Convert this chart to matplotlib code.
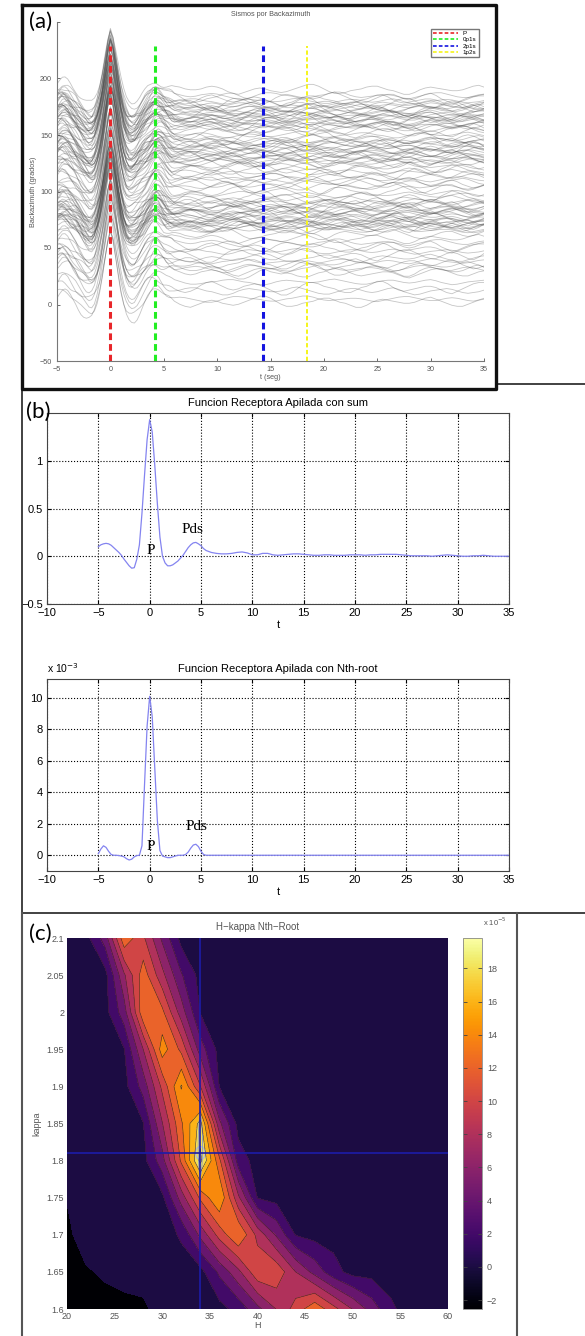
import matplotlib
matplotlib.use('Agg')
import matplotlib.pyplot as plt
import numpy as np
from matplotlib.patches import Ellipse
from matplotlib.lines import Line2D
from matplotlib.colors import Normalize
from matplotlib.cm import ScalarMappable

W, H = 585, 1336
plt.rcParams['font.family'] = ['Liberation Sans', 'DejaVu Sans']
plt.rcParams['axes.unicode_minus'] = True

# ---------------- data ----------------
# time samples of the receiver functions (s)
t_rf = np.concatenate([np.arange(-5, 6, 0.25), np.arange(6, 35.01, 0.5)])

# stacked RF (sum)
rf_sum = [0.10, 0.12, 0.13, 0.135, 0.13, 0.115, 0.09, 0.065, 0.04, 0.01,
          -0.03, -0.065, -0.10, -0.125, -0.12, -0.03, 0.12, 0.45, 0.85, 1.22,
          1.43, 1.30, 0.95, 0.55, 0.20, 0.00, -0.07, -0.10, -0.10, -0.09,
          -0.07, -0.05, -0.02, 0.01, 0.05, 0.09, 0.12, 0.14, 0.145, 0.13,
          0.11, 0.08, 0.06, 0.05,
          0.04, 0.03, 0.025, 0.025, 0.03, 0.04, 0.045, 0.035, 0.015, 0.015,
          0.03, 0.03, 0.015, 0.01, 0.015, 0.02, 0.025, 0.025, 0.02, 0.015,
          0.01, 0.01, 0.015, 0.015, 0.01, 0.01, 0.01, 0.015, 0.015, 0.015,
          0.01, 0.015, 0.015, 0.02, 0.02, 0.02, 0.02, 0.015, 0.01, 0.005,
          0.005, 0.005, 0.005, 0.0, 0.005, 0.01, 0.015, 0.01, 0.005, 0.0,
          0.0, 0.005, 0.005, 0.01, 0.005, 0.0, 0.0, 0.0, 0.0]

# stacked RF (Nth-root), x 1e-3
rf_nth = [0.1, 0.4, 0.6, 0.5, 0.25, 0.05, 0.0, 0.0, -0.02, -0.05,
          -0.1, -0.22, -0.3, -0.25, -0.1, -0.02, 0.0, 0.6, 4.5, 8.2,
          10.1, 8.8, 5.5, 2.2, 0.3, -0.05, -0.1, -0.15, -0.15, -0.1,
          -0.05, 0.0, 0.0, 0.0, 0.05, 0.2, 0.45, 0.65, 0.7, 0.55,
          0.25, 0.05, 0.0, 0.0] + [0.0] * 59

# single-event pulse shape (normalised) and coda wiggle (grados) for panel (a)
pulse_a = [0.10, 0.13, 0.15, 0.14, 0.12, 0.08, 0.04, 0.0, -0.05, -0.10,
           -0.15, -0.19, -0.22, -0.22, -0.17, -0.06, 0.10, 0.32, 0.58, 0.84,
           1.00, 0.86, 0.62, 0.36, 0.12, -0.05, -0.16, -0.21, -0.22, -0.20,
           -0.16, -0.11, -0.06, -0.01, 0.04, 0.09, 0.14, 0.17, 0.17, 0.14,
           0.10, 0.06, 0.03, 0.01] + [0.0] * 59
coda = [0, 2, 4, 5, 4, 2, -1, -3, -4, -3,
        -1, 1, 3, 3, 2, 0, -2, -4, -5, -4,
        -2, 1, 3, 5, 6, 5, 3, 1, -1, -2,
        -2, -1, 1, 2, 2, 0, -2, -4, -6, -6,
        -4, -1, 2, 4, 4, 3, 1, 0, 0, 1,
        3, 4, 3, 1, -2, -4, -5, -3, -1, 1,
        2, 1, -1, -2, -3, -2, 0, 2, 4, 6,
        6, 4, 1, -2, -4, -4, -3, -1, 0, 1,
        3, 4, 4, 2, 0, -1, -3, -5, -5, -3,
        0, 2, 3, 2, 1, 0, -1, -1, 0, 2,
        4, 5, 3, 1, -1, -3, -4, -4, -2, 0,
        2, 3, 3, 1, -1, -2, -1, 1, 3, 4,
        2, -1, -3, -5, -4, -2, 0, 1, 2, 3,
        2, 0, -2, -3, -2, -1, 1, 2, 3, 2]

# backazimuth of each event (grados), grouped
baz_top = [190, 185, 183, 181, 180, 178, 177, 176, 175, 174, 173, 172, 171, 170, 169,
           168, 167, 166, 165, 165, 164, 163, 162, 161, 160, 159, 158, 157, 156, 155]
baz_upper = [152, 150, 148, 146, 145, 144, 143, 142, 141, 140, 139, 138, 137, 136, 135,
             134, 133, 132, 131, 130, 129, 128, 127, 126, 125]
baz_mid = [123, 121, 119, 117, 115, 113, 111, 109, 107, 105, 103, 100, 97]
baz_lower = [95, 93, 91, 90, 89, 88, 87, 86, 85, 84, 83, 82, 81, 80, 79, 78, 77, 76,
             75, 74, 73, 72, 72, 71, 70, 70, 69, 68, 67, 66]
baz_sparse = [62, 58, 55, 52, 50, 47, 44, 41, 38, 36, 34, 32, 30, 28, 20, 15, 12, 5, 2]
gains = [62, 55, 68, 58, 65, 50, 60]
coda_scale = [0.8, -0.6, 1.0, -0.9, 0.5, -1.1, 0.7, -0.5, 0.9]
coda_offset = [0, 13, 27, 5, 34, 19, 9, 31, 23, 2, 16]
peak_max = 243

phases = ['P', '0p1s', '2p1s', '1p2s']
phase_t = [0.0, 4.2, 14.3, 18.45]
phase_col = ['#e8262a', '#22ee22', '#1414e0', '#f5f51a']

# H-kappa stack (x 1e-5), rows kappa 1.60 .. 2.10, columns H 20 .. 60
H_vals = np.arange(20, 60.1, 2)
k_vals = np.arange(1.6, 2.1001, 0.05)
Z = np.array([
    [-2.5, -2.4, -2.0, -2.1, -1.6, 0.3, 0.3, 0.3, 0.3, 1.7, 4.4, 7.1, 9.8, 12.5, 9.7, 6.9, 4.1, 1.3, 0.3, 0.3, 0.3],
    [-2.3, -1.3, -0.6, 0.3, 0.3, 0.3, 0.3, 0.3, 3.4, 6.5, 10.5, 10.5, 7.0, 4.3, 1.7, 0.3, 0.3, 0.3, 0.3, 0.3, 0.3],
    [-1.6, 0.3, 0.3, 0.3, 0.3, 0.3, 1.2, 5.5, 9.8, 13.0, 8.4, 4.7, 0.9, 0.3, 0.3, 0.3, 0.3, 0.3, 0.3, 0.3, 0.3],
    [-0.9, 0.3, 0.3, 0.3, 0.3, 0.5, 5.9, 11.4, 15.0, 7.4, 0.9, 0.3, 0.3, 0.3, 0.3, 0.3, 0.3, 0.3, 0.3, 0.3, 0.3],
    [0.3, 0.3, 0.3, 0.3, 0.3, 4.2, 11.4, 19.6, 11.5, 1.9, 0.3, 0.3, 0.3, 0.3, 0.3, 0.3, 0.3, 0.3, 0.3, 0.3, 0.3],
    [0.3, 0.3, 0.3, 0.3, 0.9, 6.9, 12.7, 17.8, 5.5, 0.3, 0.3, 0.3, 0.3, 0.3, 0.3, 0.3, 0.3, 0.3, 0.3, 0.3, 0.3],
    [0.3, 0.3, 0.3, 0.3, 3.8, 9.5, 15.2, 9.1, 0.9, 0.3, 0.3, 0.3, 0.3, 0.3, 0.3, 0.3, 0.3, 0.3, 0.3, 0.3, 0.3],
    [0.3, 0.3, 0.3, 0.9, 7.0, 14.0, 10.5, 4.0, 0.3, 0.3, 0.3, 0.3, 0.3, 0.3, 0.3, 0.3, 0.3, 0.3, 0.3, 0.3, 0.3],
    [0.3, 0.3, 0.3, 4.1, 12.5, 11.5, 6.0, 0.9, 0.3, 0.3, 0.3, 0.3, 0.3, 0.3, 0.3, 0.3, 0.3, 0.3, 0.3, 0.3, 0.3],
    [0.3, 0.3, 0.3, 6.7, 12.1, 7.6, 3.2, 0.3, 0.3, 0.3, 0.3, 0.3, 0.3, 0.3, 0.3, 0.3, 0.3, 0.3, 0.3, 0.3, 0.3],
    [0.3, 0.3, 3.9, 12.5, 9.4, 4.6, 0.3, 0.3, 0.3, 0.3, 0.3, 0.3, 0.3, 0.3, 0.3, 0.3, 0.3, 0.3, 0.3, 0.3, 0.3],
])
best_H, best_k = 34.0, 1.81
zmin, zmax = -2.54, 19.83


def fbox(x0, y0, x1, y1):
    # pixel box -> figure fraction rect
    return [x0 / W, 1 - y1 / H, (x1 - x0) / W, (y1 - y0) / H]


def fline(xs, ys, lw, col):
    fig.add_artist(Line2D([x / W for x in xs], [1 - y / H for y in ys], lw=lw,
                          color=col, transform=fig.transFigure, zorder=6))


fig = plt.figure(figsize=(W / 100, H / 100), dpi=100)

# ---------------- (a) traces ----------------
axa = fig.add_axes(fbox(57, 22, 484, 361))
n = len(t_rf)
pulse = np.array(pulse_a)
coda = np.array(coda, dtype=float)
all_baz = baz_top + baz_upper + baz_mid + baz_lower + baz_sparse
for i, b in enumerate(all_baz):
    g = min(gains[i % len(gains)], peak_max - b)
    o = coda_offset[i % len(coda_offset)]
    cs = coda_scale[i % len(coda_scale)]
    y = b + g * pulse + cs * coda[o:o + n]
    axa.plot(t_rf, y, color='#4a4a4a', lw=0.6, alpha=0.32)
for name, tp, c in zip(phases, phase_t, phase_col):
    lw = 1.4 if name == '1p2s' else 2.2
    axa.plot([tp, tp], [-50, 229], ls='--', dashes=(2.2, 1.3), color=c, lw=lw, label=name)
axa.set_xlim(-5, 35)
axa.set_ylim(-50, 250)
axa.set_xticks(np.arange(-5, 36, 5))
axa.set_yticks(np.arange(-50, 251, 50))
axa.set_yticklabels(['\u221250', '0', '50', '100', '150', '200', ''])
for s in ['top', 'right']:
    axa.spines[s].set_visible(False)
for s in ['left', 'bottom']:
    axa.spines[s].set_color('#777777')
    axa.spines[s].set_linewidth(0.8)
axa.tick_params(labelsize=5.2, colors='#555555', length=2.5, width=0.6, direction='in')
axa.set_title('Sismos por Backazimuth', fontsize=5.2, color='#555555', pad=4)
axa.set_xlabel('t (seg)', fontsize=5.2, color='#555555', labelpad=1)
axa.set_ylabel('Backazimuth (grados)', fontsize=5.2, color='#555555', labelpad=2)
leg = axa.legend(loc='upper right', bbox_to_anchor=(0.995, 0.99), fontsize=4.5,
                 handlelength=4.0, labelspacing=0.15, borderpad=0.35, fancybox=False,
                 edgecolor='#777777', framealpha=1)
for line in leg.get_lines():
    line.set_linewidth(1.2)

# ---------------- (b) stacked RFs ----------------
ax1 = fig.add_axes(fbox(47, 413, 509, 604))
ax2 = fig.add_axes(fbox(47, 679, 509, 871))
ax1.plot(t_rf, rf_sum, color='#8484f0', lw=0.9)
ax2.plot(t_rf, rf_nth, color='#8484f0', lw=0.9)
ax1.set_ylim(-0.5, 1.5)
ax1.set_yticks([-0.5, 0, 0.5, 1])
ax1.set_yticklabels(['\u22120.5', '0', '0.5', '1'])
ax2.set_ylim(-1, 11.2)
ax2.set_yticks(np.arange(0, 11, 2))
for ax, ttl in [(ax1, 'Funcion Receptora Apilada con sum'),
                (ax2, 'Funcion Receptora Apilada con Nth-root')]:
    ax.set_xlim(-10, 35)
    ax.set_xticks(np.arange(-10, 36, 5))
    ax.grid(True, ls=':', color='k', lw=0.8)
    ax.tick_params(labelsize=8, direction='in', top=True, right=True, length=3, pad=3)
    ax.set_xlabel('t', fontsize=8, labelpad=1)
    ax.set_title(ttl, fontsize=8, pad=5)
    for s in ax.spines.values():
        s.set_linewidth(0.8)
        s.set_color('#444444')
ax1.text(0.13, 0.06, 'P', family='Liberation Serif', fontsize=11, ha='center', va='center')
ax1.text(4.2, 0.28, 'Pds', family='Liberation Serif', fontsize=11, ha='center', va='center')
ax2.text(0.13, 0.57, 'P', family='Liberation Serif', fontsize=11, ha='center', va='center')
ax2.text(4.6, 1.8, 'Pds', family='Liberation Serif', fontsize=11, ha='center', va='center')
fig.text(47 / W, 1 - 668 / H, 'x 10$^{-3}$', fontsize=7.5, ha='left', va='center')

# ---------------- (c) H-kappa ----------------
axc = fig.add_axes(fbox(67, 938, 448, 1309))
cax = fig.add_axes(fbox(463, 938, 482, 1309))
cmap = plt.get_cmap('inferno')
norm = Normalize(zmin, zmax)
levels = [zmin, -1, 1, 3, 5, 7, 9, 11, 13, 15, 17, 19, zmax]
band_cols = [cmap(0.0)] + [cmap(norm(lv + 1)) for lv in levels[1:-1]]
axc.contourf(H_vals, k_vals, Z, levels=levels, colors=band_cols)
axc.contour(H_vals, k_vals, Z, levels=levels[2:-1], colors='#3a1f2a', linewidths=0.4)
axc.axvline(best_H, color='#1c1ca8', lw=1.2)
axc.axhline(best_k, color='#1c1ca8', lw=1.2)
axc.add_patch(Ellipse((best_H, best_k), 1.0, 0.018, fill=False, ec='#a8b8e8', lw=0.8))
axc.add_patch(Ellipse((best_H, best_k + 0.01), 0.45, 0.08, fill=False, ec='#8898c8', lw=0.6))
axc.set_xlim(20, 60)
axc.set_ylim(1.6, 2.1)
axc.set_xticks(np.arange(20, 61, 5))
axc.set_yticks(k_vals)
axc.set_yticklabels([f'{v:g}' for v in np.round(k_vals, 2)])
axc.tick_params(labelsize=6.5, colors='#555555', length=0, pad=2)
for s in axc.spines.values():
    s.set_visible(False)
axc.set_title('H\u2212kappa Nth\u2212Root', fontsize=7, color='#555555', pad=6)
axc.set_xlabel('H', fontsize=6.5, color='#555555', labelpad=0)
axc.set_ylabel('kappa', fontsize=6.5, color='#555555', labelpad=4)

cb = fig.colorbar(ScalarMappable(norm=norm, cmap=cmap), cax=cax)
cb.set_ticks(np.arange(-2, 19, 2))
cb.outline.set_edgecolor('#888888')
cb.outline.set_linewidth(0.6)
cax.tick_params(labelsize=6.5, colors='#444444', direction='in', left=True, right=True,
                length=3, width=0.6)
cax.tick_params(labelcolor='#555555')
fig.text(483 / W, 1 - 922 / H, 'x 10$^{-5}$', fontsize=5.5, color='#555555', ha='left', va='center')

# ---------------- frames and panel labels ----------------
fline([496, 590], [384, 384], 1.3, '#333333')
fline([22, 22], [384, 913], 1.3, '#333333')
fline([22, 590], [913, 913], 1.3, '#333333')
fline([22, 22], [913, 1340], 1.5, '#555555')
fline([517, 517], [913, 1340], 1.5, '#555555')
fline([22, 496, 496, 22, 22], [5, 5, 389, 389, 5], 2.4, '#111111')

lab = dict(family=['Lato', 'DejaVu Sans'], fontsize=16, ha='center', va='center', zorder=7)
fig.text(41 / W, 1 - 22 / H, '(a)', **lab)
fig.text(38 / W, 1 - 412 / H, '(b)', **lab)
fig.text(40 / W, 1 - 934 / H, '(c)', **lab)

fig.savefig('out.png', dpi=100)
